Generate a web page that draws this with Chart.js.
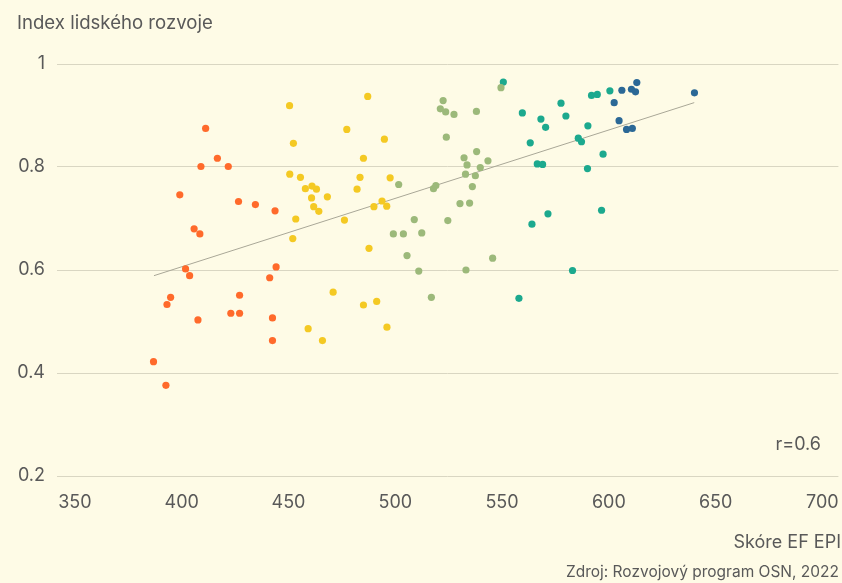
<!DOCTYPE html>
<html>
<head>
<meta charset="utf-8">
<script src="https://cdn.jsdelivr.net/npm/chart.js@4/dist/chart.umd.min.js"></script>
<style>
html,body{margin:0;padding:0;background:#FEFBE6;}
#wrap{width:842px;height:583px;position:relative;}
</style>
</head>
<body>
<div id="wrap"><canvas id="c" width="842" height="583"></canvas></div>
<script>
// ---- data ----
const orangeX = [411.2,416.7,409,421.8,399.1,426.6,434.5,443.7,405.8,408.5,401.8,403.7,444.2,441.2,394.8,393.1,427.1,407.6,423,427.1,442.5,442.5,386.8,392.6];
const orangeY = [0.875,0.817,0.801,0.801,0.746,0.733,0.727,0.715,0.680,0.670,0.602,0.589,0.606,0.585,0.547,0.533,0.551,0.503,0.516,0.516,0.507,0.463,0.422,0.376];

const yellowX = [452.3,450.6,455.6,457.9,461,463.1,460.8,461.8,464.2,453.4,452,450.5,487.1,477.3,494.9,485.1,483.5,497.6,482.1,468.2,490,493.8,496,476.2,487.7,470.9,485.1,491.3,459.2,465.9,496.1];
const yellowY = [0.846,0.786,0.780,0.758,0.763,0.757,0.740,0.723,0.714,0.699,0.661,0.919,0.937,0.873,0.854,0.817,0.780,0.779,0.757,0.742,0.723,0.734,0.724,0.697,0.642,0.557,0.532,0.539,0.486,0.463,0.489];

const greenX = [501.6,522.4,521.1,523.6,523.9,517.9,519,508.9,499.1,503.8,512.4,505.5,511,516.9,549.5,527.5,538,538.1,532.2,533.6,543.4,539.8,532.9,537.5,536.1,530.3,534.8,524.6,545.6,533.1];
const greenY = [0.766,0.929,0.913,0.907,0.858,0.758,0.764,0.698,0.670,0.670,0.672,0.628,0.598,0.547,0.954,0.902,0.908,0.830,0.818,0.804,0.812,0.799,0.786,0.783,0.762,0.729,0.730,0.696,0.623,0.600];

const tealX = [550.6,559.5,563.2,566.5,569,564,557.9,568.2,570.4,577.6,579.9,591.9,594.6,600.5,590.2,585.7,587.2,597.3,590.0,596.6,571.5,583];
const tealY = [0.965,0.905,0.847,0.806,0.805,0.689,0.545,0.893,0.877,0.924,0.899,0.939,0.941,0.948,0.880,0.856,0.849,0.825,0.797,0.716,0.709,0.599];

const blueX = [606.1,610.6,612.5,613.1,602.5,604.8,608.3,611,640.1];
const blueY = [0.949,0.951,0.946,0.964,0.925,0.890,0.873,0.875,0.944];

const trendX = [387, 640];
const trendY = [0.589, 0.925];

const xTicks = [350,400,450,500,550,600,650,700];
const yTicks = [0.2,0.4,0.6,0.8,1];

const yTitle = "Index lidského rozvoje";
const xTitle = "Skóre EF EPI";
const sourceText = "Zdroj: Rozvojový program OSN, 2022";
const rText = "r=0.6";

// ---- build ----
function pts(xs, ys){ return xs.map((x,i)=>({x:x, y:ys[i]})); }
function scatterDs(xs, ys, color){
  return {type:'scatter', data:pts(xs,ys), backgroundColor:color, borderColor:color,
          pointRadius:3.6, pointHoverRadius:3.6, borderWidth:0, order:0};
}
const FONT = "Inter, 'Noto Sans', sans-serif";
const TXT = '#595959';

const textPlugin = {
  id:'texts',
  afterDraw(chart){
    const ctx = chart.ctx;
    ctx.save();
    ctx.fillStyle = TXT;
    ctx.textBaseline = 'middle';
    ctx.font = "18.6px " + FONT;
    ctx.textAlign = 'left';
    ctx.fillText(yTitle, 17, 23);
    ctx.font = "18px " + FONT;
    ctx.textAlign = 'right';
    ctx.fillText(rText, 821, 445);
    ctx.fillText(xTitle, 841, 543);
    ctx.font = "15.5px " + FONT;
    ctx.fillText(sourceText, 839, 572);
    ctx.restore();
  }
};

new Chart(document.getElementById('c'), {
  data:{
    datasets:[
      {type:'line', data:pts(trendX,trendY), borderColor:'#A9A797', borderWidth:1, pointRadius:0, fill:false, order:10},
      scatterDs(orangeX, orangeY, '#FF6A2B'),
      scatterDs(yellowX, yellowY, '#F4C923'),
      scatterDs(greenX, greenY, '#9CB97A'),
      scatterDs(tealX, tealY, '#1CA98E'),
      scatterDs(blueX, blueY, '#2B6896')
    ]
  },
  options:{
    responsive:false,
    animation:false,
    events:[],
    layout:{padding:{top:64, left:0, right:3, bottom:67}},
    plugins:{legend:{display:false}, tooltip:{enabled:false}},
    scales:{
      x:{
        type:'linear', min:341.6, max:707.5,
        afterBuildTicks(s){ s.ticks = xTicks.map(v=>({value:v})); },
        afterFit(s){ s.height = 40; s.paddingLeft = 0; s.paddingRight = 0; },
        grid:{display:false, drawTicks:false},
        border:{display:false},
        ticks:{color:TXT, font:{family:FONT, size:18}, padding:16, maxRotation:0, autoSkip:false,
               callback:(v)=>String(v)}
      },
      y:{
        type:'linear', min:0.2, max:1,
        afterBuildTicks(s){ s.ticks = yTicks.map(v=>({value:v})); },
        afterFit(s){ s.width = 57; s.paddingTop = 0; s.paddingBottom = 0; },
        grid:{color:'#D9D6C2', lineWidth:1, drawTicks:false},
        border:{display:false},
        ticks:{color:TXT, font:{family:FONT, size:18}, padding:12,
               callback:(v)=>String(Math.round(v*10)/10)}
      }
    }
  },
  plugins:[textPlugin]
});
</script>
</body>
</html>
